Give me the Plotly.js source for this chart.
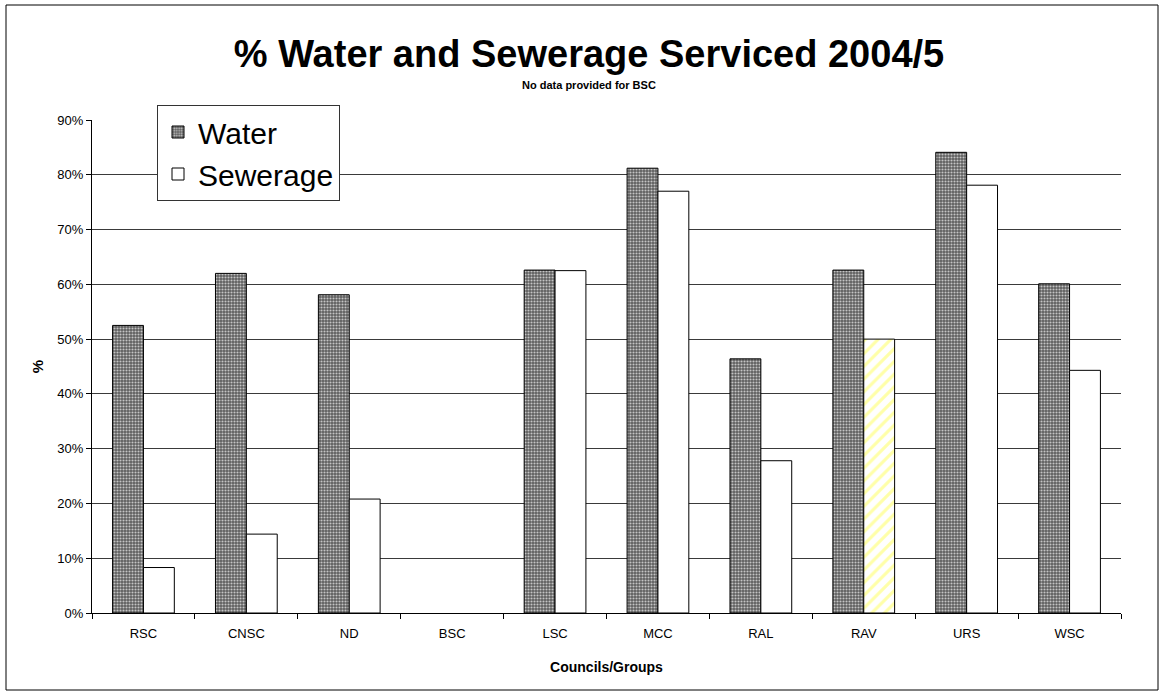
<!DOCTYPE html>
<html>
<head>
<meta charset="utf-8">
<script src="https://cdn.plot.ly/plotly-3.0.1.min.js"></script>
<style>
  html, body { margin: 0; padding: 0; background: #fff; }
  #chart { width: 1163px; height: 695px; }
</style>
</head>
<body>
<div id="chart"></div>
<script>
// ---- Data ----
const categories = ["RSC", "CNSC", "ND", "BSC", "LSC", "MCC", "RAL", "RAV", "URS", "WSC"];
const waterPct    = [52.5, 62.0, 58.1, null, 62.6, 81.2, 46.4, 62.6, 84.1, 60.1];
const seweragePct = [8.3, 14.4, 20.8, null, 62.5, 77.0, 27.8, 50.0, 78.1, 44.3];
const yTickVals = [0, 10, 20, 30, 40, 50, 60, 70, 80, 90];
const yTickText = ["0%", "10%", "20%", "30%", "40%", "50%", "60%", "70%", "80%", "90%"];
const highlighted = "RAV";

const FONT = "Liberation Sans, Arial, Helvetica, sans-serif";

const water = {
  type: "bar",
  name: "Water",
  x: categories,
  y: waterPct,
  marker: {
    color: "#5e5e5e",
    line: { color: "#000", width: 1 },
    pattern: { shape: ".", bgcolor: "#5e5e5e", fgcolor: "#c4c4c4", size: 3, solidity: 0.4 }
  },
  hoverinfo: "x+y"
};

const sewerage = {
  type: "bar",
  name: "Sewerage",
  x: categories,
  y: seweragePct,
  marker: {
    color: "#ffffff",
    line: { color: "#000", width: 1 },
    pattern: {
      shape: categories.map(c => c === highlighted ? "/" : ""),
      bgcolor: "#ffffff",
      fgcolor: "#ffffa8",
      size: 9,
      solidity: 0.35
    }
  },
  hoverinfo: "x+y"
};

// plot area in pixels
const L = 92, R = 42, T = 120, B = 82;
const W = 1163, H = 695;
const pw = W - L - R, ph = H - T - B;
const px = v => (v - L) / pw;
const py = v => (H - B - v) / ph;

const layout = {
  width: W,
  height: H,
  margin: { l: L, r: R, t: T, b: B, pad: 0 },
  paper_bgcolor: "#fff",
  plot_bgcolor: "#fff",
  font: { family: FONT, color: "#000", size: 13 },
  title: {
    text: "<b>% Water and Sewerage Serviced 2004/5</b>",
    font: { family: FONT, size: 38, color: "#000" },
    x: px(589), xref: "paper", xanchor: "center",
    y: 1 - 54 / H, yref: "container", yanchor: "middle"
  },
  barmode: "group",
  bargap: 0.4,
  bargroupgap: 0,
  showlegend: true,
  legend: {
    x: px(157), y: py(105), xanchor: "left", yanchor: "top",
    bgcolor: "#fff",
    bordercolor: "#333",
    borderwidth: 1,
    font: { family: FONT, size: 30, color: "#000" },
    tracegroupgap: 0,
    itemwidth: 30
  },
  xaxis: {
    type: "category",
    showline: true, linecolor: "#000", linewidth: 1,
    ticks: "outside", ticklen: 5, tickcolor: "#000",
    tickson: "boundaries",
    ticklabelstandoff: 8,
    tickfont: { family: FONT, size: 13, color: "#000" },
    showgrid: false,
    title: { text: "<b>Councils/Groups</b>", font: { family: FONT, size: 14, color: "#000" }, standoff: 22 },
    fixedrange: true
  },
  yaxis: {
    range: [0, 90],
    tickvals: yTickVals,
    ticktext: yTickText,
    showline: true, linecolor: "#000", linewidth: 1,
    ticks: "outside", ticklen: 5, tickcolor: "#000",
    tickfont: { family: FONT, size: 13, color: "#000" },
    showgrid: true, gridcolor: "#3a3a3a", gridwidth: 1,
    zeroline: false,
    title: { text: "<b>%</b>", font: { family: FONT, size: 15, color: "#000" }, standoff: 10 },
    fixedrange: true
  },
  annotations: [
    {
      text: "<b>No data provided for BSC</b>",
      xref: "paper", yref: "paper",
      x: px(589), y: py(85), xanchor: "center", yanchor: "middle",
      showarrow: false,
      font: { family: FONT, size: 11, color: "#000" }
    }
  ],
  shapes: [
    {
      type: "rect", xref: "paper", yref: "paper", layer: "below",
      x0: px(6), x1: px(1158), y0: py(690), y1: py(5),
      line: { color: "#000", width: 1 }, fillcolor: "rgba(0,0,0,0)"
    }
  ]
};

Plotly.newPlot("chart", [water, sewerage], layout, { displayModeBar: false, staticPlot: true });
</script>
</body>
</html>
